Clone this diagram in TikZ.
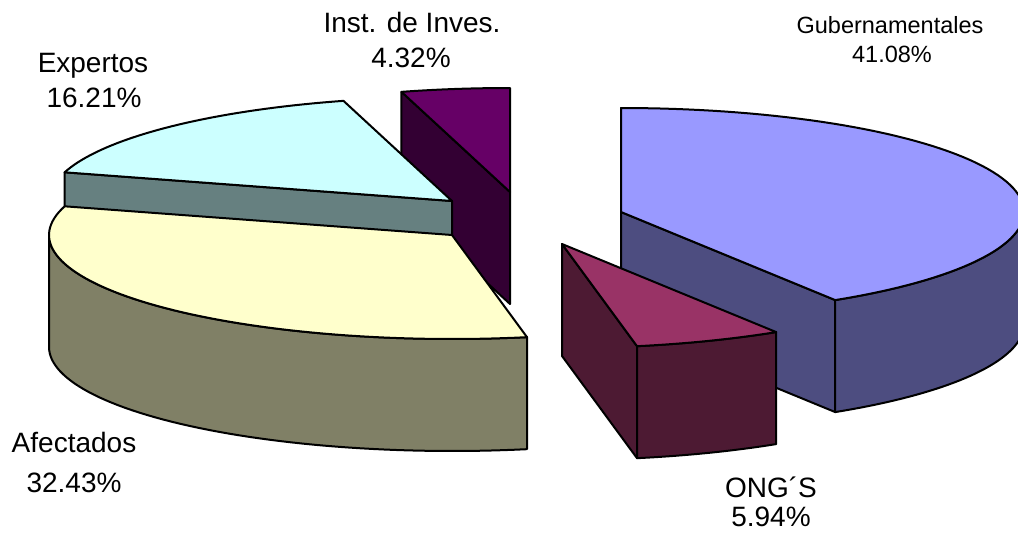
\documentclass[tikz,border=0pt]{standalone}
\usepackage{fontspec}
\setmainfont{Liberation Sans}
\usetikzlibrary{calc}
\definecolor{gubT}{HTML}{9999FF}
\definecolor{gubS}{HTML}{4D4D80}
\definecolor{ongT}{HTML}{993366}
\definecolor{ongS}{HTML}{4D1A33}
\definecolor{afeT}{HTML}{FFFFCC}
\definecolor{afeS}{HTML}{808066}
\definecolor{expT}{HTML}{CCFFFF}
\definecolor{expS}{HTML}{668080}
\definecolor{insT}{HTML}{660066}
\definecolor{insS}{HTML}{330033}
\tikzset{
  face/.style={draw=black, line width=2pt, line join=round},
  big/.style={font=\fontsize{28}{34}\selectfont, anchor=base, inner sep=0pt},
  small/.style={font=\fontsize{23.5}{28}\selectfont, anchor=base, inner sep=0pt},
}
\def\rx{403}\def\ry{104}\def\hh{112}
\begin{document}
\begin{tikzpicture}[x=1pt,y=-1pt]
\useasboundingbox (0,0) rectangle (1018,533);
\clip (0,0) rectangle (1018,533);
% ---------- Inst. de Inves. (center 510,192)
\coordinate (I0) at (510,192);
\coordinate (I1) at ({510+\rx*sin(344.376)},{192-\ry*cos(344.376)});
\filldraw[face, fill=insS] (I1) -- (I0) -- ($(I0)+(0,\hh)$) -- ($(I1)+(0,\hh)$) -- cycle;
\filldraw[face, fill=insT] (I0) -- plot[domain=344.376:360, samples=20, variable=\t] ({510+\rx*sin(\t)},{192-\ry*cos(\t)}) -- cycle;
% ---------- Expertos (center 452,201)
\coordinate (E0) at (452,201);
\coordinate (E1) at ({452+\rx*sin(286.02)},{201-\ry*cos(286.02)});
\filldraw[face, fill=expS] (E0) -- (E1) -- ($(E1)+(0,\hh)$) -- ($(E0)+(0,\hh)$) -- cycle;
\filldraw[face, fill=expT] (E0) -- plot[domain=286.02:344.376, samples=40, variable=\t] ({452+\rx*sin(\t)},{201-\ry*cos(\t)}) -- cycle;
% ---------- Afectados (center 452,235)
\coordinate (A0) at (452,235);
\filldraw[face, fill=afeS] plot[domain=169.272:270, samples=60, variable=\t] ({452+\rx*sin(\t)},{235-\ry*cos(\t)})
  -- plot[domain=270:169.272, samples=60, variable=\t] ({452+\rx*sin(\t)},{235+\hh-\ry*cos(\t)}) -- cycle;
\filldraw[face, fill=afeT] (A0) -- plot[domain=169.272:286.02, samples=70, variable=\t] ({452+\rx*sin(\t)},{235-\ry*cos(\t)}) -- cycle;
% ---------- Gubernamentales (center 621,212)
\coordinate (G0) at (621,212);
\coordinate (G2) at ({621+\rx*sin(147.888)},{212-\ry*cos(147.888)});
\filldraw[face, fill=gubS] (G0) -- (G2) -- ($(G2)+(0,\hh)$) -- ($(G0)+(0,\hh)$) -- cycle;
\filldraw[face, fill=gubS] plot[domain=90:147.888, samples=40, variable=\t] ({621+\rx*sin(\t)},{212-\ry*cos(\t)})
  -- plot[domain=147.888:90, samples=40, variable=\t] ({621+\rx*sin(\t)},{212+\hh-\ry*cos(\t)}) -- cycle;
\filldraw[face, fill=gubT] (G0) -- plot[domain=0:147.888, samples=80, variable=\t] ({621+\rx*sin(\t)},{212-\ry*cos(\t)}) -- cycle;
% ---------- ONG'S (center 562,244)
\coordinate (O0) at (562,244);
\coordinate (O2) at ({562+\rx*sin(169.272)},{244-\ry*cos(169.272)});
\filldraw[face, fill=ongS] (O0) -- (O2) -- ($(O2)+(0,\hh)$) -- ($(O0)+(0,\hh)$) -- cycle;
\filldraw[face, fill=ongS] plot[domain=147.888:169.272, samples=20, variable=\t] ({562+\rx*sin(\t)},{244-\ry*cos(\t)})
  -- plot[domain=169.272:147.888, samples=20, variable=\t] ({562+\rx*sin(\t)},{244+\hh-\ry*cos(\t)}) -- cycle;
\filldraw[face, fill=ongT] (O0) -- plot[domain=147.888:169.272, samples=20, variable=\t] ({562+\rx*sin(\t)},{244-\ry*cos(\t)}) -- cycle;
% ---------- labels
\node[big] (lexp1) at (93,72) {Expertos};
\node[big] (lexp2) at (94,107) {16.21\%};
\node[big] (lins1) at (412,32) {Inst. de Inves.};
\node[big] (lins2) at (411,67) {4.32\%};
\node[small] (lgub1) at (890,33) {Gubernamentales};
\node[small] (lgub2) at (892,62) {41.08\%};
\node[big] (lafe1) at (74,452) {Afectados};
\node[big] (lafe2) at (74,492) {32.43\%};
\node[big] (long1) at (771,497) {ONG´S};
\node[big] (long2) at (771,526) {5.94\%};
\end{tikzpicture}
\end{document}
